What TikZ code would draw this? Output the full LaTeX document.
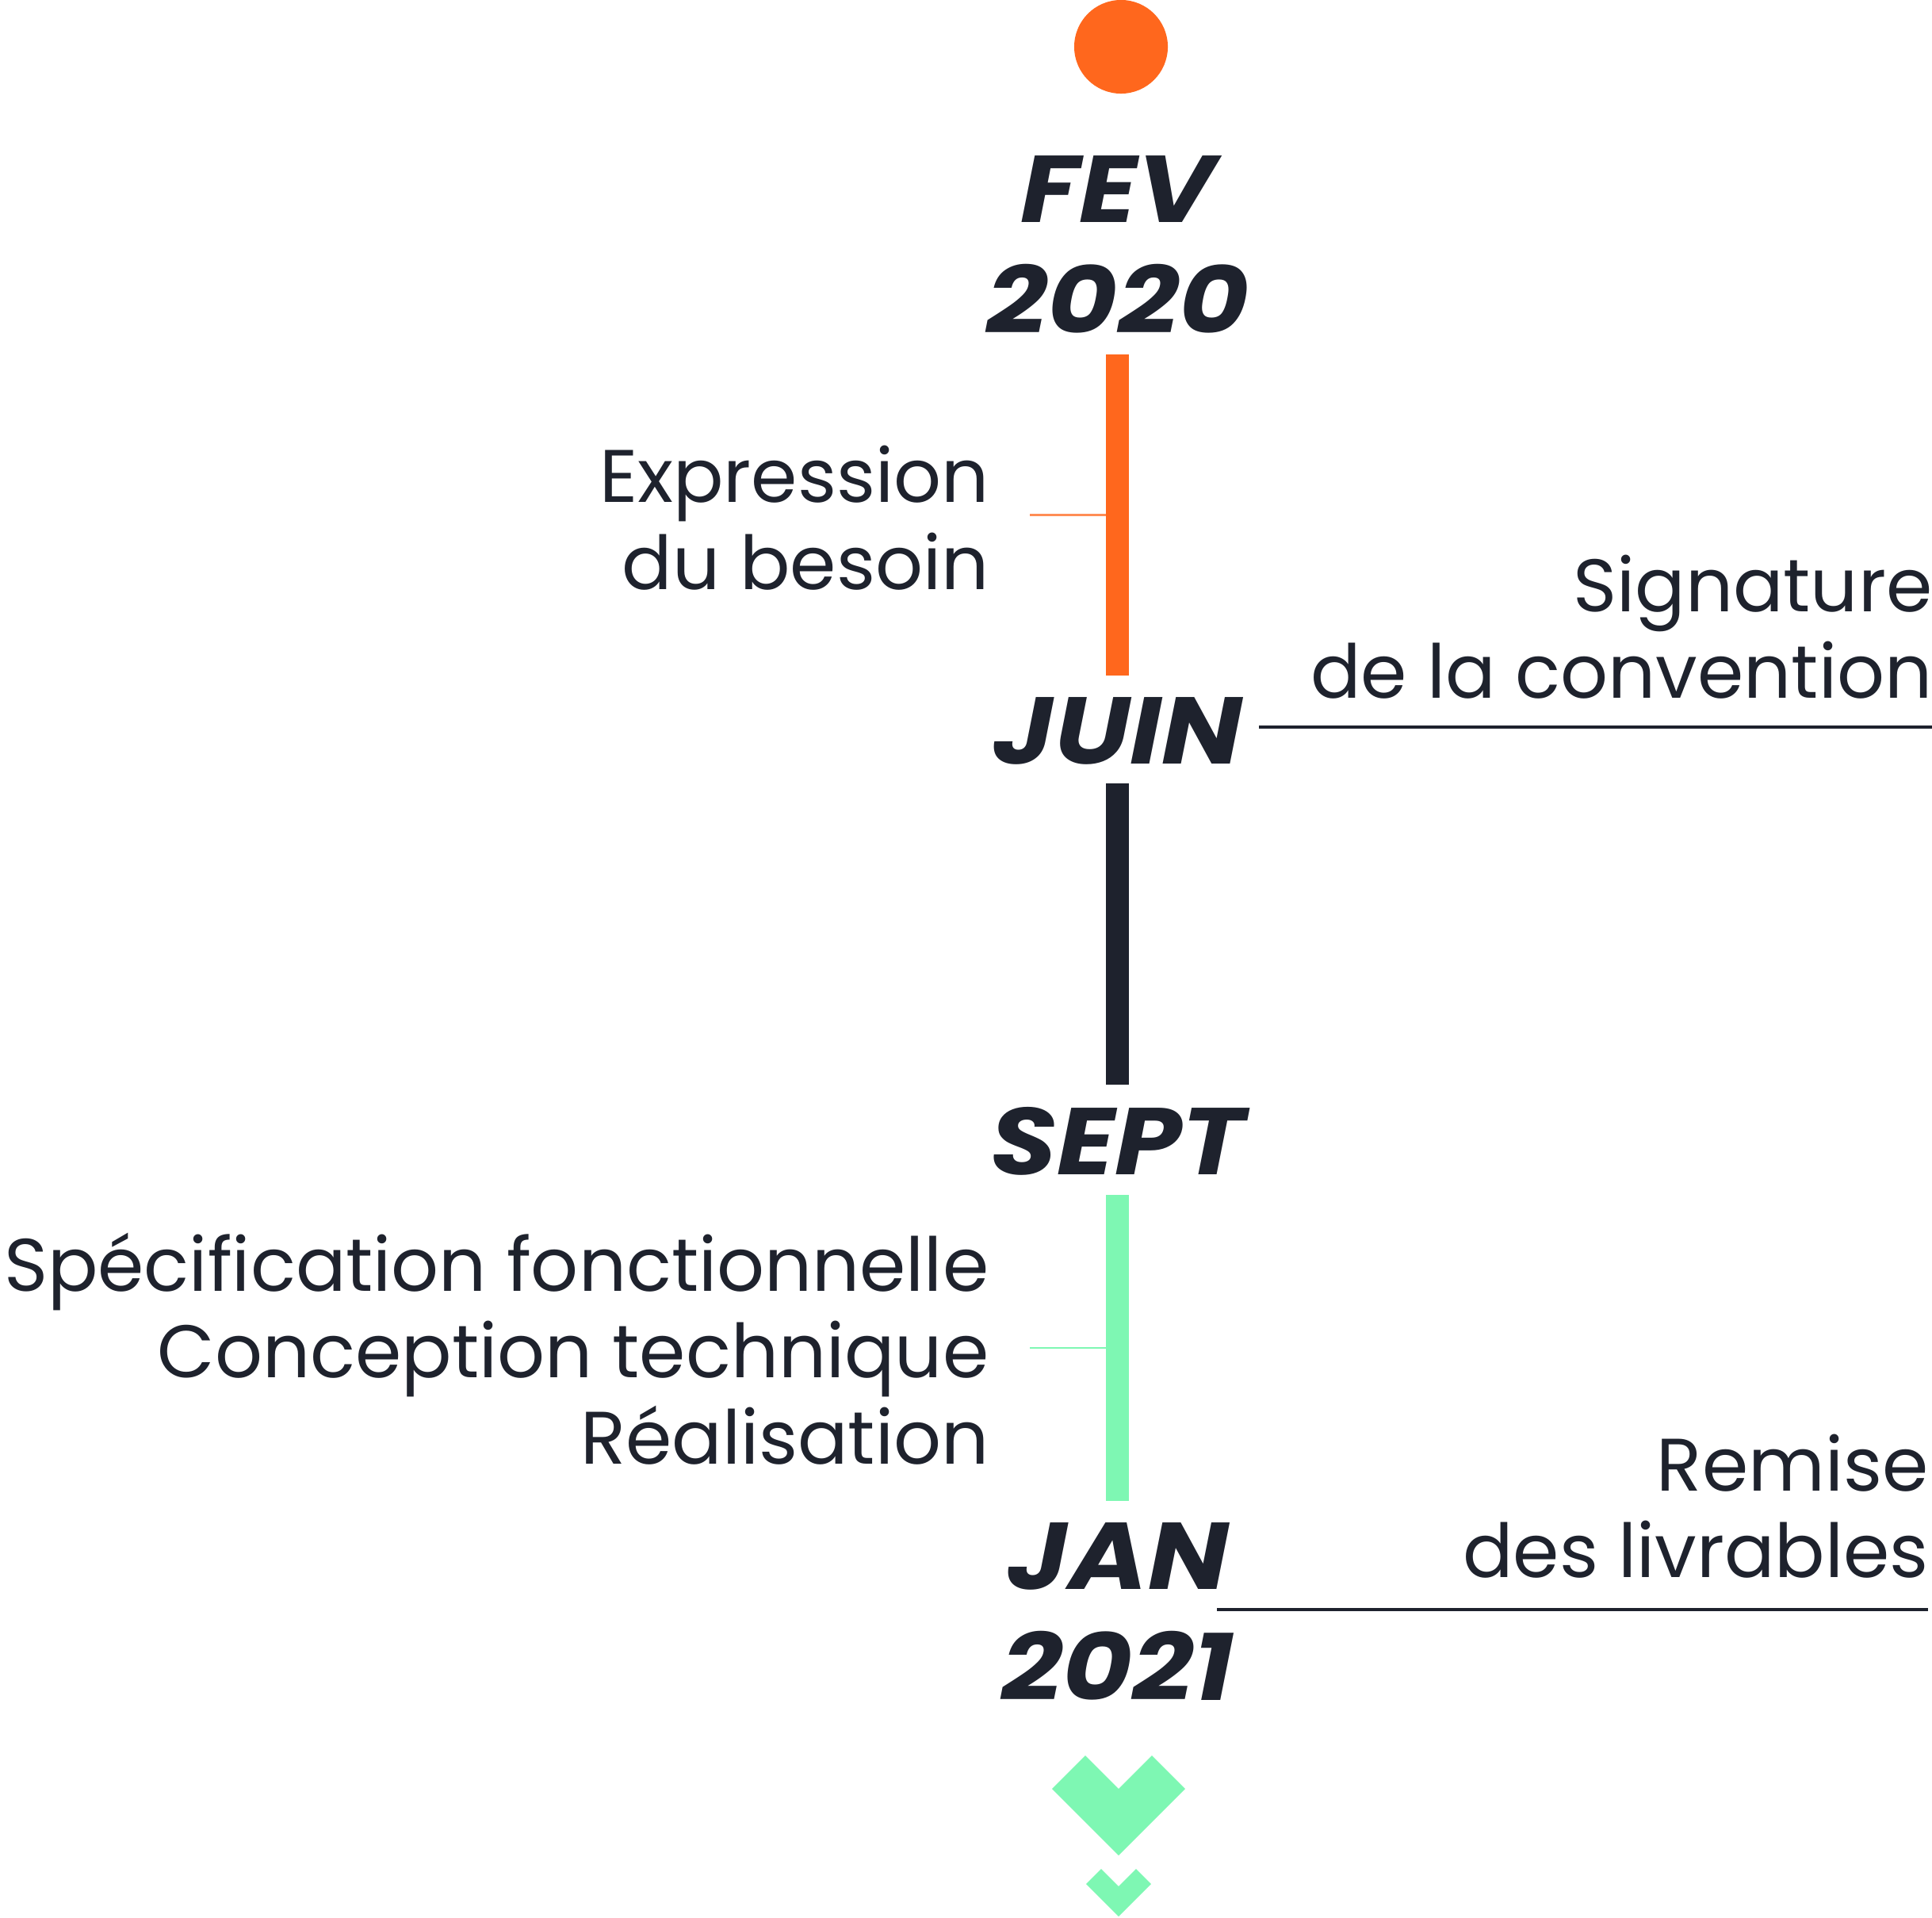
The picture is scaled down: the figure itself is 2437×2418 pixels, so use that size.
\documentclass[tikz,border=0pt]{standalone}
\usepackage{fontspec}
\setmainfont{Poppins}
\newfontfamily\datefont{Poppins}[FakeStretch=1.13]
\usetikzlibrary{calc,positioning}

\definecolor{tlorange}{HTML}{FF671D}
\definecolor{tldark}{HTML}{1E222D}
\definecolor{tlgreen}{HTML}{7EF7B3}

\begin{document}
\begin{tikzpicture}[x=0.01cm,y=-0.01cm,
    datetext/.style={font=\datefont\bfseries\itshape\fontsize{34}{39.8}\selectfont,
      text=tldark, align=center, inner sep=0pt},
    eventtext/.style={font=\fontsize{26.7}{31}\selectfont, text=tldark,
      align=right, inner sep=0pt},
    bar/.style={line width=0.29cm},
    tick/.style={line width=0.6pt},
    rule/.style={line width=0.9pt, tldark}]
    \useasboundingbox (0,0) rectangle (2437,2418);

    % start dot
    \fill[tlorange] (1414,59) circle (0.59cm);

    % dates (base = last line)
    \node[datetext, anchor=base] (fev)  at (1410,420)  {FEV\\2020};
    \node[datetext, anchor=base] (juin) at (1410,963)  {JUIN};
    \node[datetext, anchor=base] (sept) at (1410,1481) {SEPT};
    \node[datetext, anchor=base] (jan)  at (1410,2144) {JAN\\2021};

    % bars between the dates
    \coordinate (o1) at (1409.5,447);
    \coordinate (o2) at (1409.5,852);
    \coordinate (d1) at (1409.5,988);
    \coordinate (d2) at (1409.5,1368);
    \coordinate (g1) at (1409.5,1507);
    \coordinate (g2) at (1409.5,1893);
    \draw[bar, tlorange] (o1) -- (o2);
    \draw[bar, tldark] (d1) -- (d2);
    \draw[bar, tlgreen] (g1) -- (g2);

    % left side : phases
    \node[eventtext, anchor=base east] (besoin) at (1248,743)
      {Expression\\du besoin};
    \node[eventtext, anchor=base east] (dev) at (1248,1846)
      {Spécification fonctionnelle\\Conception technique\\Réalisation};
    \coordinate (ot) at ($(o1)!0.5!(o2)$);
    \coordinate (gt) at ($(g1)!0.5!(g2)$);
    \draw[tick, tlorange!75] ([xshift=-1.1cm]ot) -- ([xshift=-0.145cm]ot);
    \draw[tick, tlgreen] ([xshift=-1.1cm]gt) -- ([xshift=-0.145cm]gt);

    % right side : milestones
    \node[eventtext, anchor=base east] (signature) at (2438,880)
      {Signature\\de la convention};
    \node[eventtext, anchor=base east] (remise) at (2433,1989)
      {Remise\\des livrables};
    \coordinate (sigend) at (2437,917);
    \coordinate (remend) at (2432,2030);
    \draw[rule] (1588,917) -- (sigend);
    \draw[rule] (1535,2030) -- (remend);

    % arrows down
    \fill[tlgreen] (1327,2256) -- (1369,2214) -- (1411,2256) -- (1453,2214)
      -- (1495,2256) -- (1411,2340) -- cycle;
    \fill[tlgreen] (1370,2376) -- (1389,2357) -- (1411,2379) -- (1433,2357)
      -- (1452,2376) -- (1411,2417) -- cycle;
\end{tikzpicture}
\end{document}
